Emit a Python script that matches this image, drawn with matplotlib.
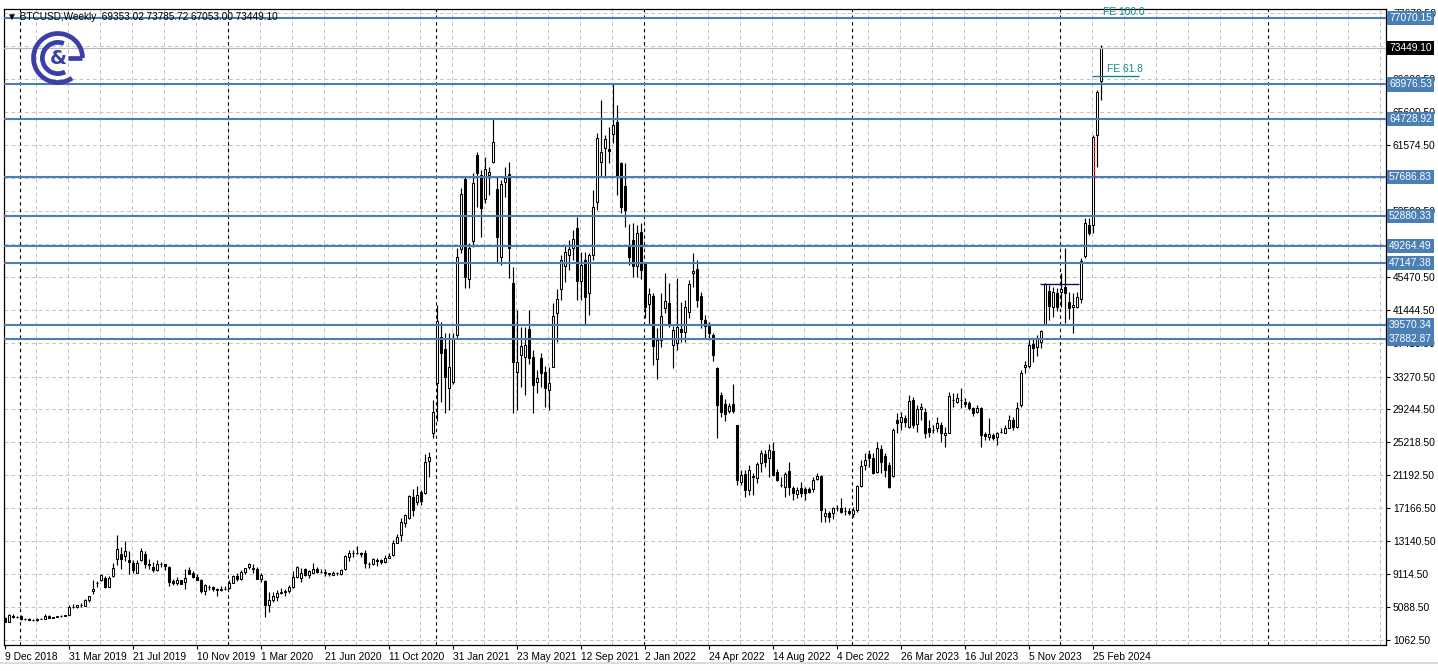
import matplotlib
matplotlib.use("Agg")
import matplotlib.pyplot as plt
import matplotlib.transforms as mtransforms
from matplotlib.patches import Arc
from matplotlib.lines import Line2D
import numpy as np

# weekly BTCUSD bars, 9 Dec 2018 .. 10 Mar 2024
opens = [
    3800, 3300, 4000, 3850, 4030, 3600, 3650, 3560, 3470, 3660,
    3620, 3950, 3800, 3880, 3940, 4000, 4130, 5100, 5150, 5300,
    5250, 5900, 7100, 8000, 8400, 8700, 7600, 8900, 11000, 11600,
    11300, 10900, 10500, 9300, 10800, 11600, 10400, 10000, 9600, 10350,
    10300, 10000, 8250, 8000, 8350, 8200, 9600, 9200, 8750, 8450,
    7000, 7550, 7500, 7300, 7200, 7300, 7400, 8070, 8850, 8480,
    9400, 9950, 9900, 9800, 8520, 8300, 5400, 5950, 6300, 6770,
    6890, 7090, 7580, 8720, 8650, 9740, 9050, 9300, 9700, 9420,
    9350, 9200, 9050, 9280, 9150, 9700, 11150, 11650, 11750, 11700,
    11740, 10400, 10312, 10900, 10800, 10638, 11100, 11453, 12960, 13900,
    15325, 16000, 18585, 17973, 19200, 19074, 23000, 26327, 32500, 38144,
    36600, 31828, 32643, 38348, 48821, 57378, 45154, 49880, 60353, 57909,
    54935, 57909, 59457, 56156, 47925, 57093, 58031, 44746, 33866, 35904,
    35700, 39042, 35700, 32643, 35496, 33800, 31625, 34477, 40997, 43931,
    46784, 48128, 48943, 51389, 44950, 47517, 43524, 48128, 54648, 59538,
    61168, 61100, 62921, 64346, 59416, 56564, 49229, 49962, 46784, 50981,
    47191, 42138, 43116, 35373, 37737, 41690, 42300, 37126, 37330, 39122,
    38756, 41201, 45887, 46376, 43116, 40182, 39448, 38348, 34273, 31013,
    29872, 29098, 29913, 27346, 20418, 21315, 19400, 21111, 20826, 22741,
    23800, 23271, 24208, 21640, 20011, 19808, 21722, 19604, 18911, 19604,
    19481, 19481, 19481, 20703, 21111, 16221, 16548, 16548, 17200, 17158,
    16873, 16873, 16466, 16955, 19889, 22456, 23800, 23271, 21640, 24371,
    23556, 22456, 21111, 27957, 27753, 28160, 27142, 30402, 27468, 29261,
    28976, 26938, 26734, 26938, 27346, 26123, 26408, 30402, 30198, 30402,
    30198, 30076, 29384, 28976, 29384, 26245, 25920, 26123, 25838, 26530,
    26408, 26938, 27957, 27142, 29791, 34477, 34558, 37300, 36923, 37534,
    39693, 43768, 41813, 43523, 43565, 44176, 42424, 41732, 41812, 42709,
    48005, 51796, 51796, 62798, 69353.02,
]
highs = [
    3880, 4200, 4250, 4000, 4100, 3750, 3700, 3600, 3730, 3720,
    4200, 4100, 3930, 3980, 4080, 4120, 5350, 5450, 5350, 5620,
    6100, 6500, 8350, 8300, 9100, 8900, 8900, 10500, 13900, 12400,
    13200, 11950, 10900, 10850, 12300, 11900, 10950, 10600, 10900, 10550,
    10400, 10100, 8500, 8750, 8400, 9800, 10000, 9500, 9100, 8550,
    7850, 7750, 7650, 7450, 7650, 7700, 8450, 9050, 9200, 9560,
    9900, 10500, 10300, 10000, 9200, 8450, 6900, 6950, 7200, 7450,
    7300, 7800, 9450, 10050, 9850, 9900, 9600, 10430, 9950, 9800,
    9800, 9300, 9450, 9350, 9800, 11450, 12100, 12050, 12500, 11800,
    12050, 10600, 11100, 11050, 10950, 11500, 11700, 13250, 14000, 15950,
    16500, 18800, 19500, 19900, 19450, 23800, 24100, 30400, 42000, 39978,
    38550, 38550, 38550, 48943, 56278, 57700, 49555, 58112, 60761, 58520,
    60150, 58928, 64836, 57705, 57300, 58928, 59538, 46702, 41405, 39367,
    39367, 41405, 36513, 34070, 36107, 34500, 34477, 42200, 44000, 48100,
    49229, 49962, 51185, 52815, 48535, 48535, 48332, 56075, 63002, 67077,
    62798, 63817, 69000, 66466, 59538, 59334, 51918, 52000, 51800, 52000,
    47313, 44053, 43442, 39163, 43442, 45887, 44700, 39500, 45276, 42424,
    42627, 45072, 48332, 47517, 43646, 40793, 39978, 38552, 34477, 31420,
    30484, 29995, 32358, 27400, 21845, 21845, 22456, 21437, 22864, 24290,
    24290, 25024, 25309, 21926, 20948, 21640, 22864, 19889, 19808, 20418,
    19808, 19808, 21030, 21437, 21233, 17158, 16873, 17362, 17566, 18381,
    17362, 17158, 17362, 19993, 23067, 23882, 24290, 23882, 25309, 24901,
    23882, 22864, 26938, 28772, 28976, 28568, 31013, 30810, 29791, 29995,
    29384, 27957, 27346, 28364, 27753, 27142, 31420, 31216, 31216, 31827,
    30606, 30320, 29587, 29791, 29587, 26530, 28160, 26408, 26530, 26938,
    27346, 28568, 28364, 30198, 34070, 35210, 37941, 37900, 38400, 39000,
    44700, 44461, 44257, 44054, 45887, 48943, 43646, 43442, 43646, 47721,
    52612, 52612, 62798, 68300, 73785.72,
]
lows = [
    3220, 3250, 3700, 3700, 3550, 3520, 3500, 3400, 3400, 3580,
    3600, 3700, 3700, 3820, 3900, 3960, 4080, 4950, 5000, 5150,
    5200, 5750, 6700, 7500, 8300, 7450, 7500, 8800, 10200, 9700,
    10700, 9100, 9200, 9200, 10700, 9900, 9800, 9350, 9500, 9950,
    9650, 7700, 7750, 7800, 7850, 7300, 9100, 8700, 8400, 6800,
    6550, 7200, 7100, 6450, 7050, 7150, 7300, 8000, 8250, 8350,
    9150, 9700, 9300, 8500, 8100, 3850, 4450, 5700, 5850, 6650,
    6500, 6800, 7450, 8650, 8100, 8900, 8700, 9200, 9200, 9200,
    8900, 8900, 8950, 9050, 9050, 9650, 10700, 11150, 11550, 11150,
    9900, 9900, 10250, 10150, 10400, 10500, 11050, 11300, 12900, 13200,
    14850, 15800, 16200, 17600, 17600, 18900, 21000, 25800, 27800, 30198,
    28800, 29180, 32300, 37940, 48332, 44054, 44054, 49147, 54037, 50370,
    54444, 55463, 59335, 47110, 46900, 55260, 45276, 28800, 29180, 32032,
    31013, 34800, 28770, 31216, 32032, 29500, 29179, 34400, 37500, 42628,
    44868, 46295, 47517, 42627, 42627, 39571, 40800, 47517, 53630, 57705,
    57705, 59334, 61780, 55463, 53222, 51592, 46906, 45480, 45480, 45154,
    40386, 39571, 34680, 32928, 36922, 40997, 39300, 34274, 36514, 37533,
    37533, 40386, 44257, 41812, 39163, 37941, 37737, 35210, 25800, 28365,
    27876, 28772, 28772, 20000, 20011, 18585, 18789, 18789, 20215, 21640,
    22252, 20948, 21100, 20541, 19726, 18500, 18789, 18177, 18381, 18585,
    18177, 18992, 19200, 20622, 15528, 15528, 15528, 15900, 16800, 16548,
    16344, 16344, 16140, 16750, 19808, 21845, 22252, 21356, 21437, 21437,
    21030, 19604, 21030, 26327, 26734, 27142, 26938, 26938, 26530, 27957,
    25716, 25920, 26327, 26530, 25309, 24697, 26327, 29587, 29995, 29384,
    29587, 29179, 28450, 28772, 24697, 25512, 25512, 25512, 24901, 26327,
    26327, 26938, 26734, 26938, 29587, 33662, 34274, 35000, 35800, 36700,
    39571, 40180, 40593, 41324, 41813, 39775, 40262, 38552, 41608, 42220,
    47721, 50573, 50777, 58927, 67053.00,
]
closes = [
    3300, 4100, 3900, 3850, 3600, 3650, 3560, 3470, 3660, 3620,
    3950, 3800, 3880, 3940, 4000, 4100, 5140, 5150, 5300, 5280,
    6000, 6400, 7250, 8050, 8950, 7600, 8600, 9900, 12200, 11000,
    11950, 10600, 9600, 10500, 11900, 10400, 10250, 9600, 10350, 10400,
    10150, 8200, 8000, 8350, 7950, 8650, 9150, 8800, 8450, 7100,
    7750, 7500, 7300, 7150, 7350, 7350, 8070, 8850, 8480, 9400,
    9830, 10300, 9750, 8520, 9000, 5400, 5950, 6400, 6770, 6890,
    7090, 7500, 8720, 9950, 9200, 9050, 9500, 9700, 9420, 9350,
    9280, 9130, 9280, 9200, 9600, 11350, 11650, 11750, 11700, 11550,
    10435, 10312, 10925, 10760, 10550, 11046, 11330, 12880, 13700, 15528,
    16343, 18666, 16955, 18788, 18000, 22864, 23400, 28976, 40000, 36107,
    33254, 34477, 37818, 47843, 55545, 45480, 48943, 56889, 58194, 53834,
    58600, 58316, 61902, 50370, 56808, 57500, 49025, 35089, 35089, 37004,
    37126, 35496, 32236, 33051, 33662, 31900, 32440, 40671, 42709, 47517,
    48535, 48821, 50044, 44990, 46906, 42953, 48128, 53956, 62390, 60761,
    62268, 60900, 64021, 57705, 53956, 53630, 47923, 46784, 50777, 46295,
    41812, 43361, 37000, 37737, 40671, 42505, 39860, 38960, 39285, 38756,
    41812, 44583, 46174, 42627, 40304, 39448, 38552, 35903, 29791, 28976,
    28690, 29709, 29098, 20622, 21233, 19400, 21845, 21000, 22578, 23963,
    22863, 24290, 21233, 20622, 20000, 21356, 19726, 18992, 19400, 18992,
    19074, 19200, 20622, 21111, 16955, 16629, 16140, 17158, 17239, 16750,
    16870, 16548, 16955, 19889, 22334, 23067, 23271, 21437, 24494, 22863,
    21845, 19808, 26734, 27550, 28364, 27753, 30320, 27346, 29261, 29587,
    26408, 26530, 26700, 27550, 26408, 26408, 30891, 30380, 30606, 30400,
    29913, 29384, 28853, 29384, 26123, 26000, 26245, 25716, 26408, 26530,
    26938, 27957, 27142, 29465, 33743, 34680, 37126, 36700, 37941, 38878,
    44583, 41895, 43646, 41813, 43972, 43442, 41608, 42017, 42953, 47436,
    52000, 50858, 62513, 68096, 73449.10,
]

date_labels = ["9 Dec 2018", "31 Mar 2019", "21 Jul 2019", "10 Nov 2019", "1 Mar 2020",
               "21 Jun 2020", "11 Oct 2020", "31 Jan 2021", "23 May 2021", "12 Sep 2021",
               "2 Jan 2022", "24 Apr 2022", "14 Aug 2022", "4 Dec 2022", "26 Mar 2023",
               "16 Jul 2023", "5 Nov 2023", "25 Feb 2024"]
year_start_bars = [4, 56, 108, 160, 212, 264, 316]

price_ticks = [1062.5, 5088.5, 9114.5, 13140.5, 17166.5, 21192.5, 25218.5, 29244.5,
               33270.5, 37418.5, 41444.5, 45470.5, 49496.5, 53522.5, 57548.5, 61574.5,
               65600.5, 69626.5, 73652.5, 77678.5]
# labels fully covered by the level boxes are left blank
hidden_ticks = [49496.5, 57548.5, 73652.5]
price_tick_labels = ["" if v in hidden_ticks else "%.2f" % v for v in price_ticks]

levels = [77070.15, 68976.53, 64728.92, 57686.83, 52880.33, 49264.49, 47147.38,
          39570.34, 37882.87]
last_price = 73449.10
fe_levels = [("FE 100.0", 77070.15), ("FE 61.8", 70030.0)]

plt.rcParams['font.family'] = ['Liberation Sans', 'DejaVu Sans']

W, H = 1438, 671
fig = plt.figure(figsize=(W / 100, H / 100), dpi=100)
fig.patch.set_facecolor('white')
ax = fig.add_axes([4 / W, (H - 645) / H, (1386 - 4) / W, (645 - 9) / H])
ax.set_xlim(-0.25, 345.25)
ax.set_ylim(451, 78202)

blue = '#4a7fb5'
teal = '#12898a'

# grid
for v in price_ticks:
    ax.axhline(v, color='#c4c4c4', lw=0.7, ls=(0, (4, 3)), zorder=0)
for k in range(1, 44):
    ax.axvline(8 * k - 0.25, color='#c4c4c4', lw=0.7, ls=(0, (4, 3)), zorder=0)
for b in year_start_bars:
    ax.axvline(b - 0.25, color='black', lw=0.8, ls=(0, (3, 3)), zorder=1)

# candles
o = np.array(opens, dtype=float)
h = np.array(highs, dtype=float)
l = np.array(lows, dtype=float)
c = np.array(closes, dtype=float)
x = np.arange(len(c))
up = c >= o
ax.vlines(x, l, h, color='black', lw=0.85, zorder=3)
ax.bar(x[up], (c - o)[up], bottom=o[up], width=0.6, color='white',
       edgecolor='black', lw=0.75, zorder=4)
ax.bar(x[~up], (c - o)[~up], bottom=o[~up], width=0.6, color='black',
       edgecolor='black', lw=0.75, zorder=4)

# horizontal levels
trans = mtransforms.blended_transform_factory(ax.transAxes, ax.transData)
ax.axhline(last_price, color='#b8b8b8', lw=0.9, zorder=5)
for p in levels:
    ax.axhline(p, color=blue, lw=1.5, zorder=6)
    ax.text(1.0022, p, "%.2f" % p, transform=trans, ha='left', va='center',
            fontsize=7.4, color='white', zorder=10, clip_on=False,
            bbox=dict(boxstyle='square,pad=0.2', fc=blue, ec='none'))
ax.text(1.0022, last_price, "%.2f" % last_price, transform=trans, ha='left',
        va='center', fontsize=7.4, color='white', zorder=10, clip_on=False,
        bbox=dict(boxstyle='square,pad=0.2', fc='black', ec='none'))

# fibo expansion marks
ax.hlines(fe_levels[1][1], 271.75, 283.5, color=teal, lw=1.0, zorder=7)
ax.text(274.5, 77830, fe_levels[0][0], color=teal, fontsize=7.4, va='center', ha='left', zorder=7)
ax.text(275.5, 70900, fe_levels[1][0], color=teal, fontsize=7.4, va='center', ha='left', zorder=7)
ax.vlines(272.3, 57700, 62500, color='red', lw=1.0, ls=(0, (2, 1.5)), zorder=7)
ax.hlines(44550, 258.75, 268.5, color='#0a0a80', lw=1.0, zorder=7)

# axes styling
ax.yaxis.tick_right()
ax.set_yticks(price_ticks)
ax.set_yticklabels(price_tick_labels, fontsize=7.4)
ax.tick_params(axis='y', length=3, pad=2, width=0.8)
ax.set_xticks(range(0, 16 * len(date_labels), 16))
ax.set_xticklabels(date_labels, fontsize=7.4, ha='left')
ax.tick_params(axis='x', length=3, pad=2, width=0.8)
for s in ax.spines.values():
    s.set_color('black')
    s.set_linewidth(0.9)

fig.text(7 / W, 1 - 17 / H, u"\u25bc BTCUSD,Weekly  69353.02 73785.72 67053.00 73449.10",
         fontsize=7.2, va='center', ha='left', color='black')

# logo
logo = fig.add_axes([28 / W, 1 - 88 / H, 60 / W, 60 / H])
logo.set_xlim(-1.2, 1.2)
logo.set_ylim(-1.2, 1.2)
logo.set_aspect('equal')
logo.axis('off')
lc = '#3c3fa6'
logo.add_patch(Arc((0, 0), 1.96, 1.96, theta1=0, theta2=305, color=lc, lw=3.4))
logo.plot([0.98, 0.4], [0.0, 0.0], color=lc, lw=3.4, solid_capstyle='butt')
logo.add_patch(Arc((0, 0), 1.25, 1.25, theta1=68, theta2=297, color=lc, lw=3.4))
logo.text(0.02, -0.02, '&', color=lc, fontsize=14, fontweight='bold', ha='center', va='center',
          family='DejaVu Sans')

fig.add_artist(Line2D([0, 1], [1 - 663 / H, 1 - 663 / H], color='#dcdcdc', lw=1.5))

fig.savefig('out.png', dpi=100)
